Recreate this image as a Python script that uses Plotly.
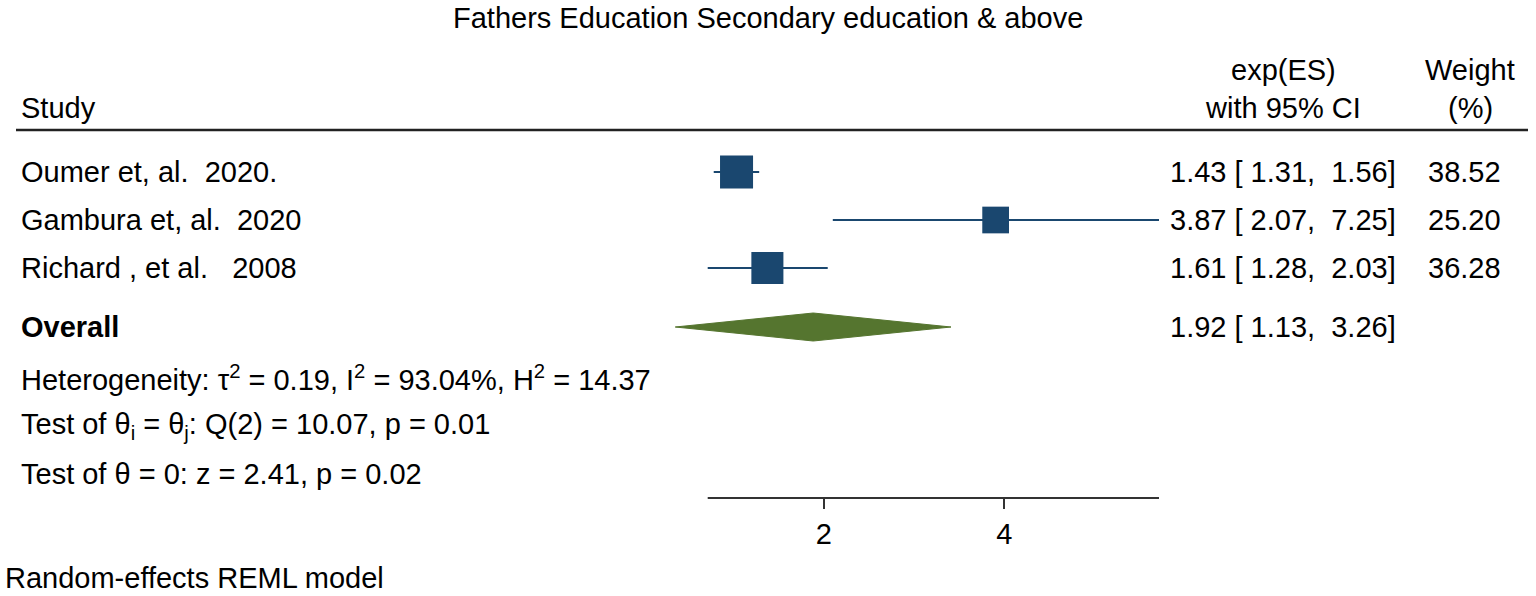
import plotly.graph_objects as go
import numpy as np

# ---------------- data ----------------
title_text = "Fathers Education Secondary education & above"
studies = ["Oumer et, al.  2020.", "Gambura et, al.  2020", "Richard , et al.   2008"]
es = [1.43, 3.87, 1.61]
ci_low = [1.31, 2.07, 1.28]
ci_high = [1.56, 7.25, 2.03]
weights = [38.52, 25.20, 36.28]
overall_label = "Overall"
overall_es = 1.92
overall_low = 1.13
overall_high = 3.26
stats_lines = [
    "Heterogeneity: τ<sup>2</sup> = 0.19, I<sup>2</sup> = 93.04%, H<sup>2</sup> = 14.37",
    "Test of θ<sub>i</sub> = θ<sub>j</sub>: Q(2) = 10.07, p = 0.01",
    "Test of θ = 0: z = 2.41, p = 0.02",
]
tick_vals = [2, 4]
tick_text = ["2", "4"]
footnote = "Random-effects REML model"

# ---------------- layout helpers ----------------
W, H = 1536, 596
FONT = "Liberation Sans, Arial, sans-serif"
FS = 29
NAVY = "#1a476f"
GREEN = "#55752f"

def px(x):
    return x / W

def py(y):
    return 1 - y / H

row_y = [172, 220, 268]
overall_y = 327
stats_y = [378, 426, 474]
axis_y = 498
top_y = 130

# axis line extent (pixels) corresponds to the data span of the study CIs
x_lo = min(ci_low)
x_hi = max(ci_high)
ax_px0, ax_px1 = 707.7, 1159.0
slope = (ax_px1 - ax_px0) / (np.log10(x_hi) - np.log10(x_lo))
dom_px0, dom_px1 = 620.0, 1165.0
r0 = np.log10(x_lo) - (ax_px0 - dom_px0) / slope
r1 = np.log10(x_hi) + (dom_px1 - ax_px1) / slope

fig = go.Figure()

# CI lines + squares
for i in range(len(studies)):
    fig.add_trace(go.Scatter(
        x=[ci_low[i], ci_high[i]], y=[row_y[i], row_y[i]],
        mode="lines", line=dict(color=NAVY, width=2.2),
        showlegend=False, hoverinfo="skip"))
sizes = [5.32 * np.sqrt(w) for w in weights]
fig.add_trace(go.Scatter(
    x=es, y=row_y, mode="markers",
    marker=dict(symbol="square", size=sizes, color=NAVY, opacity=1,
                line=dict(width=0)),
    showlegend=False))

# overall diamond
dh = 14
fig.add_trace(go.Scatter(
    x=[overall_low, overall_es, overall_high, overall_es, overall_low],
    y=[overall_y, overall_y - dh, overall_y, overall_y + dh, overall_y],
    mode="lines", fill="toself", fillcolor=GREEN,
    line=dict(color=GREEN, width=1), showlegend=False))

fig.update_layout(
    width=W, height=H,
    margin=dict(l=0, r=0, t=0, b=0),
    paper_bgcolor="white", plot_bgcolor="white",
    font=dict(family=FONT, size=FS, color="#000000"),
    xaxis=dict(
        type="log", domain=[px(dom_px0), px(dom_px1)],
        range=[r0, r1],
        showgrid=False, zeroline=False, showline=False,
        ticks="outside", ticklen=10, tickwidth=2, tickcolor="#333333",
        tickvals=tick_vals, ticktext=tick_text,
        tickfont=dict(family=FONT, size=FS, color="#000000"),
        anchor="y",
    ),
    yaxis=dict(
        domain=[py(axis_y), py(top_y)],
        range=[axis_y, top_y],
        showgrid=False, zeroline=False, showline=False,
        showticklabels=False, ticks="",
    ),
)

ann = []
def text(s, x, y, anchor="left", size=FS):
    ann.append(dict(text=s, x=px(x), y=py(y), xref="paper", yref="paper",
                    xanchor=anchor, yanchor="middle", showarrow=False,
                    font=dict(family=FONT, size=size, color="#000000")))

text(title_text, 768, 18, "center")
text("exp(ES)", 1283, 70, "center")
text("with 95% CI", 1283, 108, "center")
text("Weight", 1470, 70, "center")
text("(%)", 1470, 108, "center")
text("Study", 19, 108, "left")

for i, s in enumerate(studies):
    text(s, 19, row_y[i], "left")
    text(f"{es[i]:.2f} [ {ci_low[i]:.2f},  {ci_high[i]:.2f}]", 1283, row_y[i], "center")
    text(f"{weights[i]:.2f}", 1503, row_y[i], "right")

text(f"<b>{overall_label}</b>", 19, overall_y, "left")
text(f"{overall_es:.2f} [ {overall_low:.2f},  {overall_high:.2f}]", 1283, overall_y, "center")
for s, y in zip(stats_lines, stats_y):
    text(s, 19, y, "left")
text(footnote, 3, 578, "left")

fig.update_layout(annotations=ann)

# header rule
fig.add_shape(type="line", xref="paper", yref="paper",
              x0=px(16), x1=px(1528), y0=py(top_y), y1=py(top_y),
              line=dict(color="#222222", width=2.5))
# x-axis line spanning the study CI range
fig.add_shape(type="line", xref="x", yref="paper",
              x0=x_lo, x1=x_hi, y0=py(axis_y), y1=py(axis_y),
              line=dict(color="#333333", width=2))

fig.write_html("out.html", config={"displayModeBar": False},
               post_script="document.body.style.margin='0';document.body.style.overflow='hidden';")
